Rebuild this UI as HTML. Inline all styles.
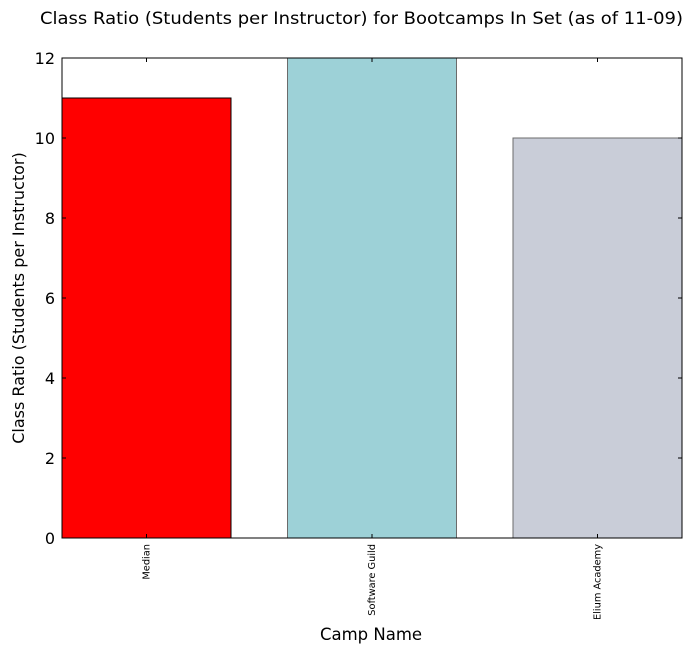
<!DOCTYPE html>
<html><head><meta charset="utf-8"><style>
body{margin:0;background:#fff;font-family:"Liberation Sans","DejaVu Sans",sans-serif}
</style></head><body>
<svg id="chart" width="693" height="654" xmlns="http://www.w3.org/2000/svg" font-family="DejaVu Sans, Liberation Sans, sans-serif">
<text x="40" y="24" font-size="17" textLength="643" lengthAdjust="spacingAndGlyphs">Class Ratio (Students per Instructor) for Bootcamps In Set (as of 11-09)</text>
<text x="371" y="640" font-size="16.5" text-anchor="middle">Camp Name</text>
<text transform="translate(24,298) rotate(-90)" font-size="16" text-anchor="middle">Class Ratio (Students per Instructor)</text>
<g id="bars"></g>
<g id="axes"></g>
</svg>
<script>
const categories = ["Median", "Software Guild", "Elium Academy"];
const values = [11, 12, 10];
const fills = ["#ff0000", "#9dd1d7", "#c9cdd8"];
const strokes = ["#000000", "#6b6b6b", "#6b6b6b"];
const yTicks = [0, 2, 4, 6, 8, 10, 12];

const NS = "http://www.w3.org/2000/svg";
const L = 62, R = 682, T = 58, B = 538, yMax = 12;
const slot = 225.5, bw = 169;
const y = v => B - (v / yMax) * (B - T);
const x = i => L + i * slot;
const bars = document.getElementById("bars");
const axes = document.getElementById("axes");
function mk(tag, attrs, parent) {
  const e = document.createElementNS(NS, tag);
  for (const k in attrs) e.setAttribute(k, attrs[k]);
  parent.appendChild(e);
  return e;
}
categories.forEach((c, i) => {
  const r = mk("rect", {x: x(i), y: y(values[i]), width: bw, height: B - y(values[i]), fill: fills[i], stroke: strokes[i], "stroke-width": 1}, bars);
  
  
  const cx = x(i) + bw / 2;
  const t = mk("text", {transform: `translate(${cx + 3},544) rotate(-90)`, "font-size": 9.8, "text-anchor": "end"}, axes);
  t.textContent = c;
  
  
  mk("line", {x1: cx, x2: cx, y1: B, y2: B - 4, stroke: "#000"}, axes);
  mk("line", {x1: cx, x2: cx, y1: T, y2: T + 4, stroke: "#000"}, axes);
});
yTicks.forEach(v => {
  const t = mk("text", {x: 55, y: y(v) + 6, "font-size": 16, "text-anchor": "end"}, axes);
  t.textContent = v;
  
  
  mk("line", {x1: L, x2: L + 4, y1: y(v), y2: y(v), stroke: "#000"}, axes);
  mk("line", {x1: R, x2: R - 4, y1: y(v), y2: y(v), stroke: "#000"}, axes);
});
const f = mk("rect", {x: L, y: T, width: R - L, height: B - T, fill: "none", stroke: "#000", "stroke-width": 1}, axes);


</script>
</body></html>
